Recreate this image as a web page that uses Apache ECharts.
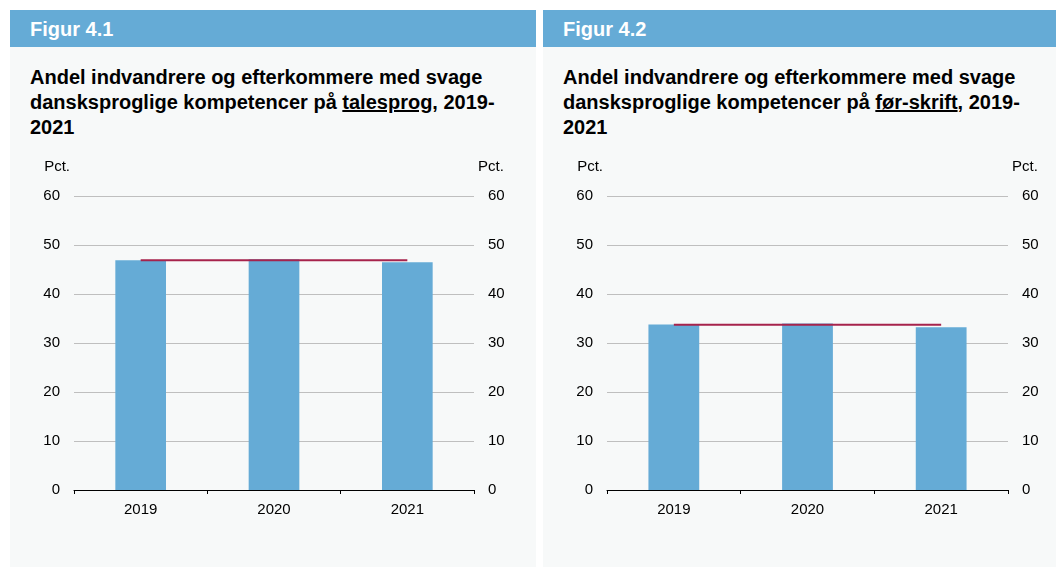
<!DOCTYPE html>
<html>
<head>
<meta charset="utf-8">
<script src="https://cdn.jsdelivr.net/npm/echarts@6/dist/echarts.min.js"></script>
<style>
  body { margin: 0; background: #fff; font-family: Arial, "Liberation Sans", sans-serif; }
  .panel { position: absolute; top: 10px; height: 557px; background: #f7f9f9; }
  .head { height: 37px; background: #65abd6; color: #fff; font-weight: bold; font-size: 20px;
          line-height: 38px; padding-left: 20px; }
  .title { position: absolute; left: 20px; top: 55px; font-weight: bold; font-size: 20px;
           line-height: 25px; color: #000; }
  .chart { position: absolute; top: 130px; height: 427px; left: 0; }
</style>
</head>
<body>
<div class="panel" style="left:10px;width:526px">
  <div class="head">Figur 4.1</div>
  <div class="title">Andel indvandrere og efterkommere med svage<br>dansksproglige kompetencer på <u>talesprog</u>, 2019-<br>2021</div>
  <div class="chart" id="c1" style="width:526px"></div>
</div>
<div class="panel" style="left:543px;width:513px">
  <div class="head">Figur 4.2</div>
  <div class="title">Andel indvandrere og efterkommere med svage<br>dansksproglige kompetencer på <u>før-skrift</u>, 2019-<br>2021</div>
  <div class="chart" id="c2" style="width:513px"></div>
</div>
<script>
const years = ['2019', '2020', '2021'];
const talesprog = [46.9, 47.1, 46.5];
const talesprogLine = [46.9, 46.9, 46.9];
const skrift = [33.8, 34.0, 33.2];
const skriftLine = [33.7, 33.7, 33.7];

function yAxis(pos) {
  return {
    type: 'value',
    position: pos,
    min: 0,
    max: 60,
    interval: 10,
    name: 'Pct.',
    nameLocation: 'end',
    nameGap: 22,
    nameTextStyle: {
      color: '#000',
      fontSize: 15,
      align: pos === 'left' ? 'right' : 'left',
      padding: pos === 'left' ? [0, 4, 0, 0] : [0, 0, 0, 4]
    },
    axisLine: { show: false },
    axisTick: { show: false },
    axisLabel: { color: '#000', fontSize: 15, margin: 14 },
    splitLine: { show: pos === 'left', lineStyle: { color: '#bfbfbf', width: 1 } }
  };
}

function renderChart(id, bars, line, gridRight) {
  let chart = echarts.init(document.getElementById(id), null, {renderer: 'canvas'});
  let option = {
    animation: false,
    textStyle: { fontFamily: 'Arial, "Liberation Sans", sans-serif' },
    grid: { left: 64, right: gridRight, top: 56, bottom: 77, containLabel: false },
    xAxis: {
      type: 'category',
      data: years,
      axisLine: { lineStyle: { color: '#000', width: 1 } },
      axisTick: { show: true, length: 4, lineStyle: { color: '#000' } },
      axisLabel: { color: '#000', fontSize: 15, margin: 12 }
    },
    yAxis: [yAxis('left'), yAxis('right')],
    series: [
      {
        type: 'bar',
        data: bars,
        barWidth: '38%',
        itemStyle: { color: '#65abd6' }
      },
      {
        type: 'line',
        data: line,
        showSymbol: false,
        symbol: 'none',
        z: 5,
        lineStyle: { color: '#a6234c', width: 2 }
      }
    ]
  };
  chart.setOption(option);
}

renderChart('c1', talesprog, talesprogLine, 62);
renderChart('c2', skrift, skriftLine, 48);
</script>
</body>
</html>
